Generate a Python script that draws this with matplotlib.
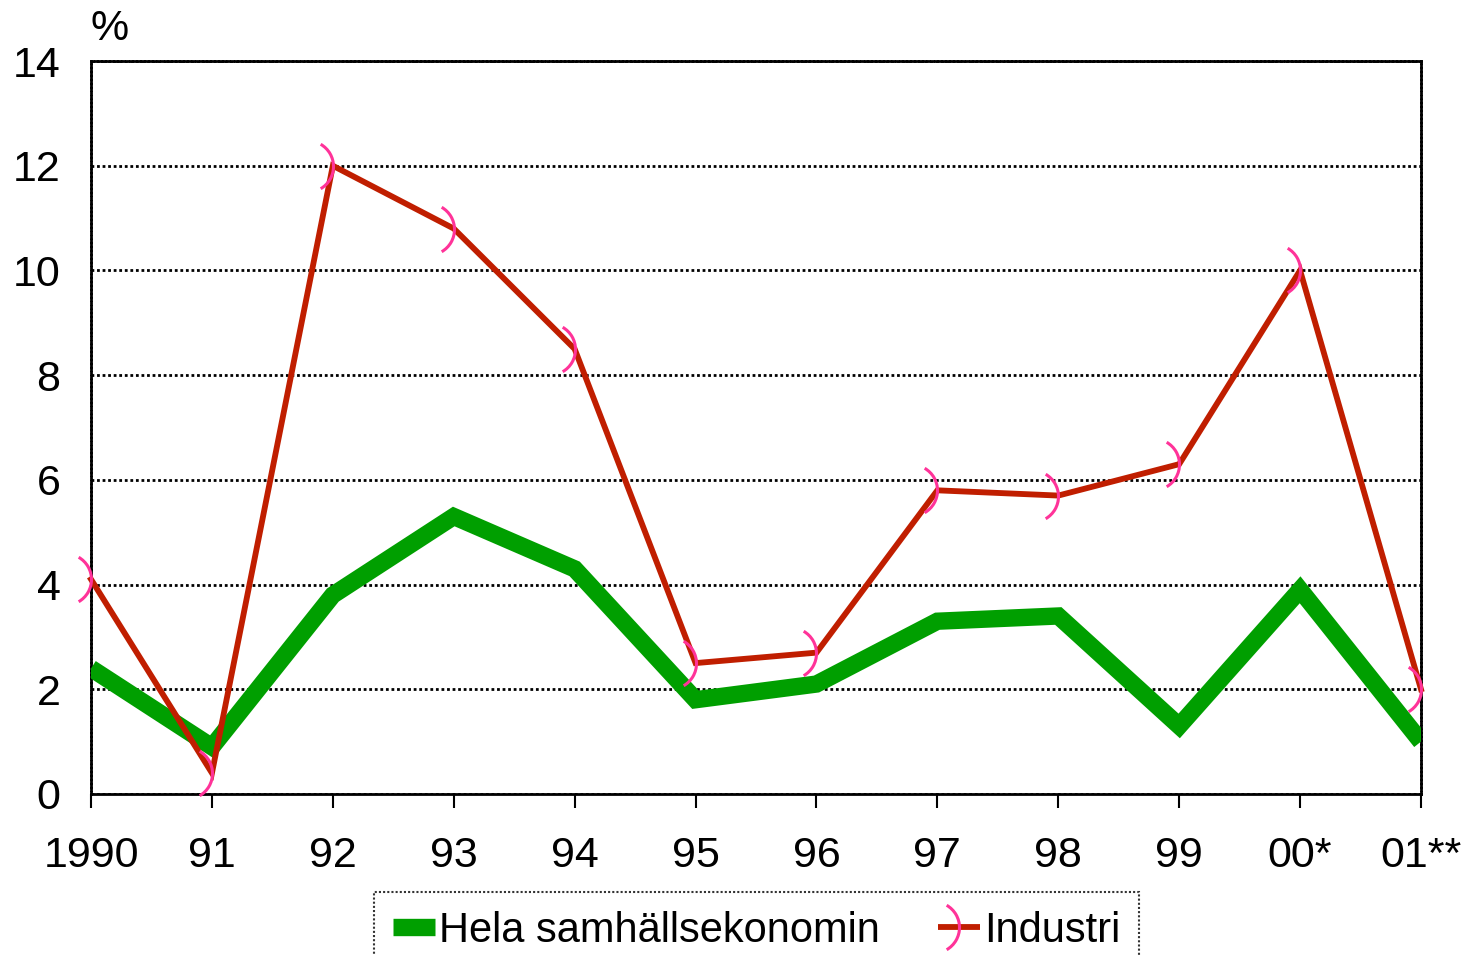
import matplotlib.pyplot as plt
import numpy as np
from matplotlib.path import Path

plt.rcParams['font.family'] = ['Liberation Sans', 'DejaVu Sans']

# data
years = ['1990', '91', '92', '93', '94', '95', '96', '97', '98', '99', '00*', '01**']
hela = [2.4, 0.9, 3.8, 5.3, 4.3, 1.8, 2.1, 3.3, 3.4, 1.3, 3.9, 1.0]
industri = [4.1, 0.4, 12.0, 10.8, 8.5, 2.5, 2.7, 5.8, 5.7, 6.3, 10.0, 2.0]

# arc marker like ")" with its right edge on the point
arc = Path.arc(-60, 60)
arc_marker = Path(arc.vertices - np.array([1.0, 0.0]), arc.codes)

fig = plt.figure(figsize=(14.66, 9.55), dpi=100)
ax = fig.add_axes([0.0621, 0.1686, 0.9072, 0.7675])

x = np.arange(len(years))
ax.plot(x, hela, color='#009F00', lw=12.5, solid_joinstyle='miter',
        solid_capstyle='butt', label='Hela samhällsekonomin', zorder=3)
ax.plot(x, industri, color='#C01E00', lw=4.2, solid_joinstyle='miter',
        marker=arc_marker, markersize=32, markeredgewidth=2.2, markerfacecolor='none',
        markeredgecolor='#FF3399', label='Industri', zorder=4, clip_on=False)

ax.set_xlim(0, len(years) - 1)
ax.set_ylim(0, 14)
ax.set_yticks(np.arange(0, 15, 2))
ax.set_xticks(x)
ax.set_xticklabels(years)
ax.tick_params(axis='x', direction='out', length=10, width=1.5, labelsize=31, pad=20)
ax.tick_params(axis='y', length=0, labelsize=31, pad=22)

ax.grid(axis='y', color='black', linestyle=(0, (1.0, 1.0)), lw=2)
for s in ax.spines.values():
    s.set_linestyle((0, (0.7, 0.7)))
    s.set_linewidth(2)
ax.spines['bottom'].set_linestyle('-')

fig.text(0.075, 0.97, '%', fontsize=31, ha='center', va='center')

leg = fig.legend(loc='upper center', bbox_to_anchor=(0.516, 0.088), ncol=2,
                 fontsize=30, frameon=True, fancybox=False, handlelength=1.0,
                 handletextpad=0.1, columnspacing=1.4, borderpad=0.45)
leg.get_frame().set_edgecolor('black')
leg.get_frame().set_linestyle((0, (1.0, 1.0)))
leg.get_frame().set_linewidth(1.5)
for h in leg.legend_handles:
    h.set_solid_capstyle('butt')

fig.savefig('out.png', dpi=100)
